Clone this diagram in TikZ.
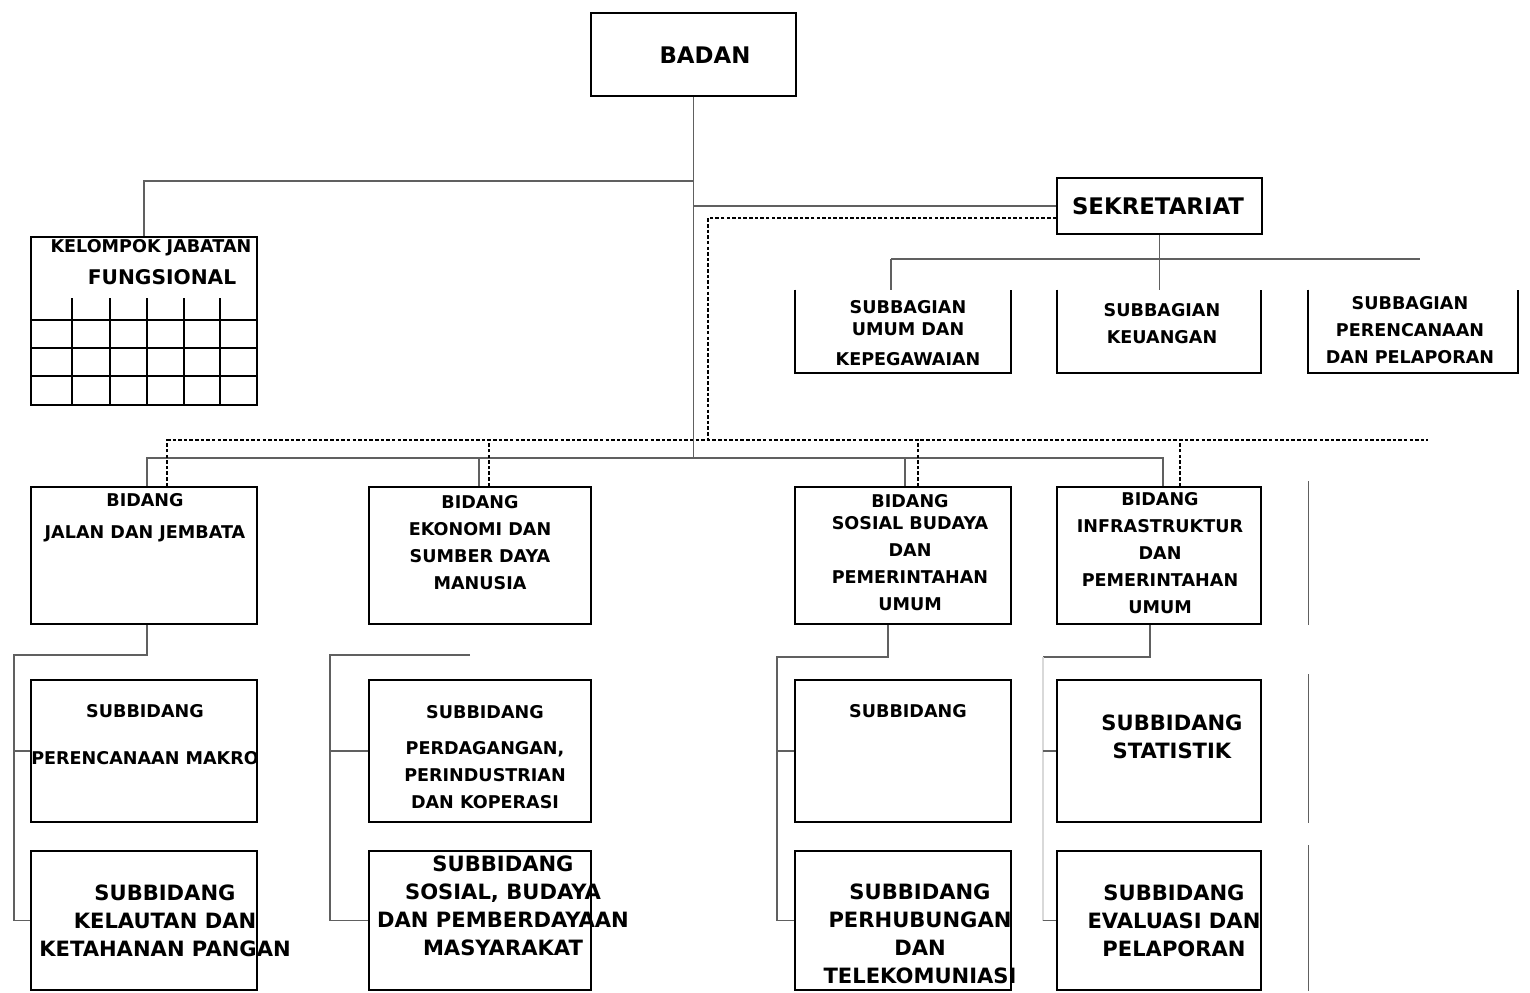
\documentclass[tikz,border=0pt]{standalone}
\usepackage{fontspec}
\newfontfamily\orgfont{DejaVu Sans}
\usetikzlibrary{positioning, calc}

\begin{document}
\begin{tikzpicture}[x=0.02cm, y=-0.02cm,
	box/.style={draw, line width=1pt, inner sep=0pt},
	openbox/.style={inner sep=0pt},
	link/.style={gray!75!black, line width=0.6pt},
	dotlink/.style={black, line width=1pt, dash pattern=on 2pt off 1.2pt},
	small/.style={font=\orgfont\bfseries\fontsize{10}{15.4}\selectfont, align=center, inner sep=0pt},
	large/.style={font=\orgfont\bfseries\fontsize{12}{16}\selectfont, align=center, inner sep=0pt}]
	
	\useasboundingbox (0,0) rectangle (1530,992);
	
	% Badan and staff units
	\node[box, minimum width=4.1cm, minimum height=1.66cm] (badan) at (693.5,54.5) {};
	\node[font=\orgfont\bfseries\fontsize{13}{16}\selectfont, inner sep=0pt] (tBadan) at (705,55) {BADAN};
	
	\node[box, minimum width=4.52cm, minimum height=3.36cm] (kjf) at (144,321) {};
	\node[small] (tKjfA) at (151,248) {KELOMPOK JABATAN};
	\node[font=\orgfont\bfseries\fontsize{11.5}{14}\selectfont, inner sep=0pt] (tKjfB) at (162,277) {FUNGSIONAL};
	\foreach \gx in {72,110,147,184,220}
		\draw[line width=1pt] (\gx,298) -- (\gx,405);
	\foreach \gy in {320,348,376}
		\draw[line width=1pt] (31,\gy) -- (257,\gy);
	
	\node[box, minimum width=4.1cm, minimum height=1.12cm] (sekr) at (1159.5,206) {};
	\node[font=\orgfont\bfseries\fontsize{13}{16}\selectfont, inner sep=0pt] (tSekr) at (1158,206) {SEKRETARIAT};
	
	\node[openbox, minimum width=4.32cm, minimum height=1.66cm] (sbUmum) at (903,331.5) {};
	\node[openbox, minimum width=4.08cm, minimum height=1.66cm] (sbKeu) at (1159,331.5) {};
	\node[openbox, minimum width=4.2cm, minimum height=1.66cm] (sbRen) at (1413,331.5) {};
	\foreach \n in {sbUmum,sbKeu,sbRen}
		\draw[line width=1pt] (\n.north west) -- (\n.south west) -- (\n.south east) -- (\n.north east);
	\node[small] (tUmum) at (908,333) {SUBBAGIAN\\[-3pt]UMUM DAN\\[2pt]KEPEGAWAIAN};
	\node[small] (tKeu) at (1162,323.5) {SUBBAGIAN\\KEUANGAN};
	\node[small] (tRen) at (1410,330) {SUBBAGIAN\\PERENCANAAN\\DAN PELAPORAN};
	
	% Bidang
	\node[box, minimum width=4.52cm, minimum height=2.74cm] (bJalan) at (144,555.5) {};
	\node[box, minimum width=4.44cm, minimum height=2.74cm] (bEko) at (480,555.5) {};
	\node[box, minimum width=4.32cm, minimum height=2.74cm] (bSos) at (903,555.5) {};
	\node[box, minimum width=4.08cm, minimum height=2.74cm] (bInf) at (1159,555.5) {};
	\node[small] (tJalan) at (145,517.5) {BIDANG\\[3pt]JALAN DAN JEMBATA};
	\node[small] (tEko) at (480,543) {BIDANG\\EKONOMI DAN\\SUMBER DAYA\\MANUSIA};
	\node[small] (tSos) at (910,553) {BIDANG\\[-3pt]SOSIAL BUDAYA\\DAN\\PEMERINTAHAN\\UMUM};
	\node[small] (tInf) at (1160,553) {BIDANG\\INFRASTRUKTUR\\DAN\\PEMERINTAHAN\\UMUM};
	
	% Subbidang
	\node[box, minimum width=4.52cm, minimum height=2.84cm] (sMakro) at (144,751) {};
	\node[box, minimum width=4.44cm, minimum height=2.84cm] (sDagang) at (480,751) {};
	\node[box, minimum width=4.32cm, minimum height=2.84cm] (sSosA) at (903,751) {};
	\node[box, minimum width=4.08cm, minimum height=2.84cm] (sStat) at (1159,751) {};
	\node[box, minimum width=4.52cm, minimum height=2.78cm] (sLaut) at (144,920.5) {};
	\node[box, minimum width=4.44cm, minimum height=2.78cm] (sBudaya) at (480,920.5) {};
	\node[box, minimum width=4.32cm, minimum height=2.78cm] (sHub) at (903,920.5) {};
	\node[box, minimum width=4.08cm, minimum height=2.78cm] (sEval) at (1159,920.5) {};
	
	\node[small] (tMakro) at (145,734.5) {SUBBIDANG\\[11pt]PERENCANAAN MAKRO};
	\node[small] (tDagang) at (485,757) {SUBBIDANG\\[5pt]PERDAGANGAN,\\PERINDUSTRIAN\\DAN KOPERASI};
	\node[small] (tSosA) at (908,711) {SUBBIDANG};
	\node[large] (tStat) at (1172,736.5) {SUBBIDANG\\STATISTIK};
	\node[large] (tLaut) at (165,920.5) {SUBBIDANG\\KELAUTAN DAN\\KETAHANAN PANGAN};
	\node[large] (tBudaya) at (503,906) {SUBBIDANG\\SOSIAL, BUDAYA\\DAN PEMBERDAYAAN\\MASYARAKAT};
	\node[large] (tHub) at (920,934) {SUBBIDANG\\PERHUBUNGAN\\DAN\\TELEKOMUNIASI};
	\node[large] (tEval) at (1174,921) {SUBBIDANG\\EVALUASI DAN\\PELAPORAN};
	
	% Lines of command
	\coordinate (trunkK) at (693,181);
	\coordinate (busL) at (147,458);
	\coordinate (busR) at (1163,458);
	\draw[link] (badan.south) -- (badan.south |- busL);
	\draw[link] (trunkK) -| (kjf.north);
	\draw[link] (sekr.west) -- (sekr.west -| trunkK);
	\draw[link] (busL) -- (busR);
	\foreach \b/\dx in {bJalan/3, bEko/-1, bSos/2, bInf/4}
		\draw[link] (\b.north) ++(\dx,0) -- ++(0,-29);
	
	\coordinate (sekBusL) at (891,259);
	\coordinate (sekBusR) at (1420,259);
	\draw[link] (sekr.south) -- (sekr.south |- sbKeu.north);
	\draw[link] (sekBusL) -- (sekBusR);
	\draw[link] (sekBusL) -- (sekBusL |- sbUmum.north);
	
	% Lines of coordination
	\coordinate (dashK) at (708,440);
	\coordinate (dashL) at (167,440);
	\coordinate (dashR) at (1428,440);
	\draw[dotlink] ($(sekr.west)+(0,12)$) -| (dashK);
	\draw[dotlink] (dashL) -- (dashR);
	\foreach \b/\dx in {bJalan/23, bEko/9, bSos/15, bInf/21}
		\draw[dotlink] (\b.north) ++(\dx,0) -- ++(0,-47);
	
	% Subbidang links
	\coordinate (spJ) at (14,655);
	\draw[link] ($(bJalan.south)+(3,0)$) |- (spJ) |- (sLaut.west);
	\draw[link] (spJ |- sMakro.west) -- (sMakro.west);
	
	\coordinate (spE) at (330,655);
	\coordinate (spEend) at (470,655);
	\draw[link] (spEend) -- (spE) |- (sBudaya.west);
	\draw[link] (spE |- sDagang.west) -- (sDagang.west);
	
	\coordinate (spS) at (777,657);
	\draw[link] ($(bSos.south)+(-15,0)$) |- (spS) |- (sHub.west);
	\draw[link] (spS |- sSosA.west) -- (sSosA.west);
	
	\coordinate (spI) at (1043,657);
	\draw[link] ($(bInf.south)+(-9,0)$) |- (spI);
	\draw[link, gray!30] (spI) -- (spI |- sEval.west);
	\draw[link] (spI |- sStat.west) -- (sStat.west);
	\draw[link] (spI |- sEval.west) -- (sEval.west);
	
	\foreach \b in {bInf,sStat,sEval}
		\draw[link] ($(\b.north east)+(47,-5)$) -- ($(\b.south east)+(47,0)$);
	
\end{tikzpicture}
\end{document}
